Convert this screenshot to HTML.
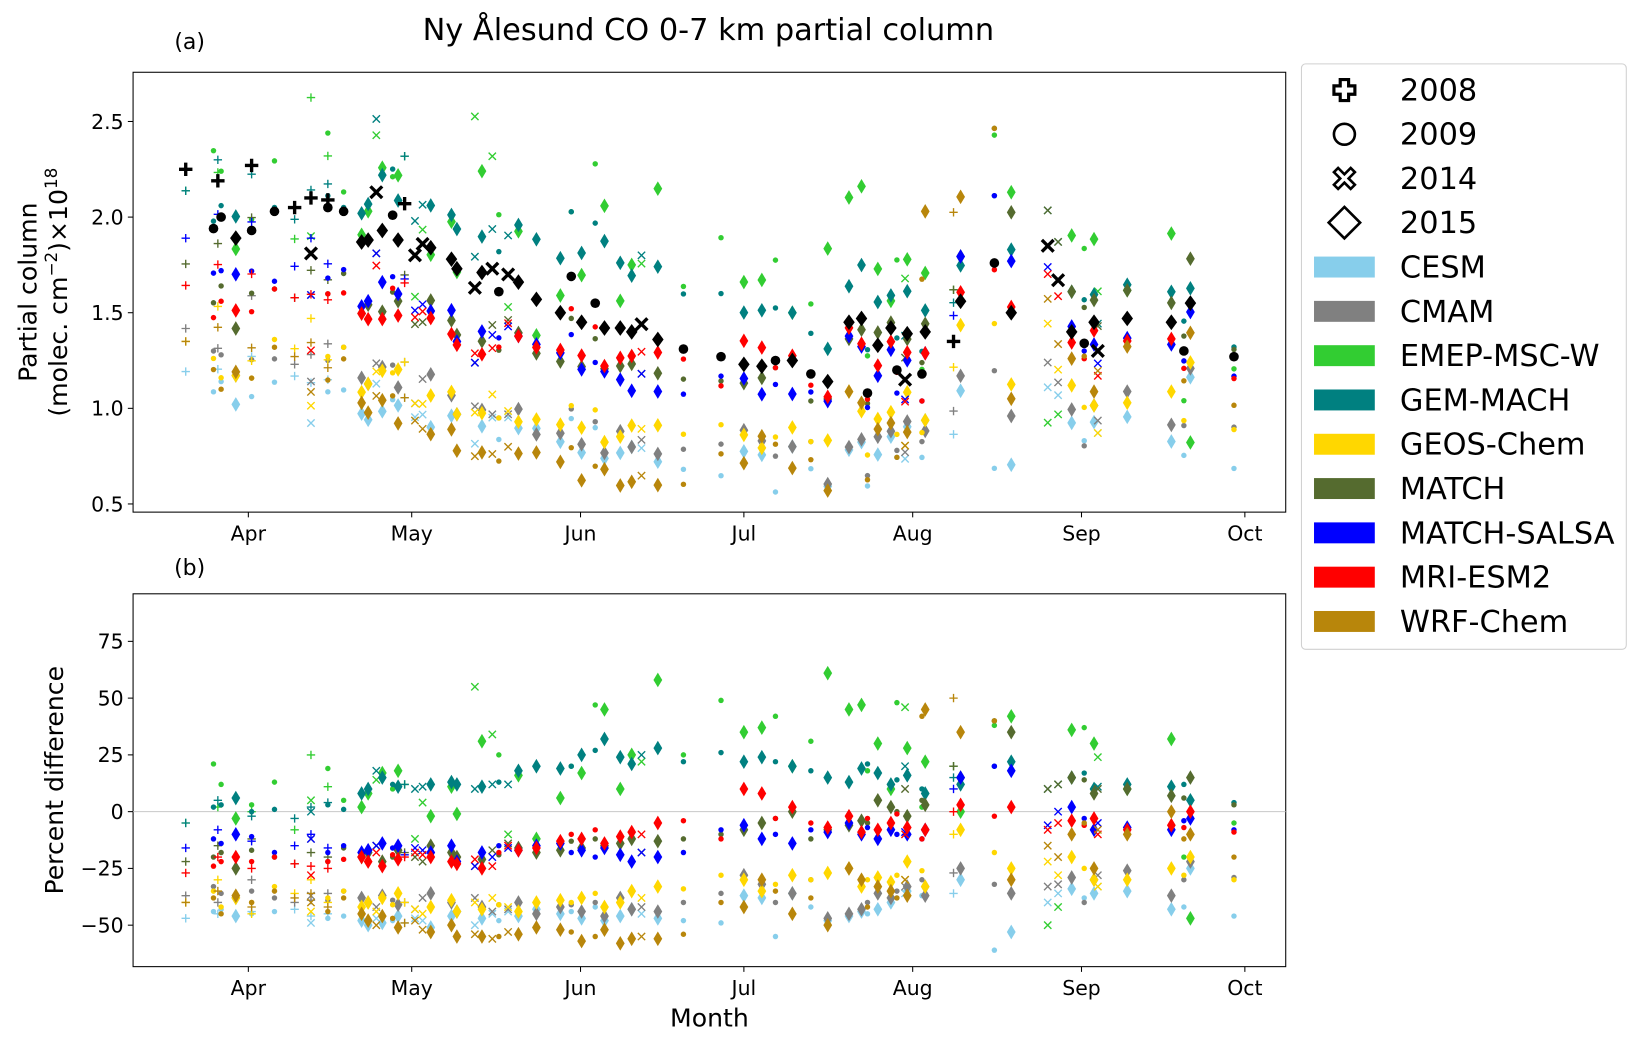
<!DOCTYPE html>
<html><head><meta charset="utf-8">
<style>html,body{margin:0;padding:0;background:#fff}svg{display:block}text{font-family:"DejaVu Sans","Liberation Sans",sans-serif;fill:#000}</style>
</head><body>
<svg id="chart" width="1642" height="1041" viewBox="0 0 1567 994" preserveAspectRatio="none" xmlns="http://www.w3.org/2000/svg">
<text x="676" y="38" font-size="29" text-anchor="middle">Ny Ålesund CO 0-7 km partial column</text>
<text x="181" y="47" font-size="21" text-anchor="middle">(a)</text>
<text x="181" y="549" font-size="21" text-anchor="middle">(b)</text>
<rect x="127" y="69" width="1100" height="420" fill="none" stroke="#000" stroke-width="1"/>
<rect x="127" y="567" width="1100" height="356" fill="none" stroke="#000" stroke-width="1"/>
<line x1="127" x2="1227" y1="775" y2="775" stroke="#c8c8c8" stroke-width="1"/>
<g id="axes"></g>
<g id="marks"></g>
<text transform="translate(35,279) rotate(-90)" font-size="24" text-anchor="middle">Partial column</text>
<text transform="translate(64,279) rotate(-90)" font-size="24" text-anchor="middle">(molec. cm<tspan baseline-shift="super" font-size="16">−2</tspan>)×10<tspan baseline-shift="super" font-size="16">18</tspan></text>
<text transform="translate(60,745) rotate(-90)" font-size="24" text-anchor="middle">Percent difference</text>
<text x="677" y="980" font-size="24" text-anchor="middle">Month</text>
<g>
<rect x="1242" y="61" width="310" height="559" rx="4" fill="#fff" stroke="#d0d0d0" stroke-width="1"/>
<g id="legend-items"></g>
</g>
</svg>
<script>
const monthLabels = ["Apr","May","Jun","Jul","Aug","Sep","Oct"];
const monthDays = [91,121,152,182,213,244,274];
const colTicks = [0.5,1.0,1.5,2.0,2.5];
const pctTicks = [-50,-25,0,25,50,75];
const years = [2008,2009,2014,2015];
const models = ["CESM","CMAM","EMEP-MSC-W","GEM-MACH","GEOS-Chem","MATCH","MATCH-SALSA","MRI-ESM2","WRF-Chem"];
const modelColors = ["#87ceeb","#808080","#32cd32","#008080","#ffd700","#556b2f","#0000ff","#ff0000","#b8860b"];
const obsDay = [79.5,84.6,85.4,86,88.7,91.6,91.6,95.8,99.5,102.5,102.5,105.6,105.6,108.5,
 111.8,113,114.5,115.6,117.5,118.5,119.7,121.6,123,124.5,128.3,129.3,132.6,133.9,135.8,137,138.7,140.6,143.9,148.3,
 150.3,152.2,154.7,156.4,159.3,161.4,163.2,166.2,170.9,
 177.8,182,185.3,187.8,190.9,194.3,197.4,201.3,203.6,204.7,206.6,209,210.1,211.6,212,214.7,215.3,
 220.5,221.8,228,231.1,
 237.8,239.7,242.2,244.5,246.3,247,252.4,260.5,262.8,264,272];
const obsYear = [2008,2009,2008,2009,2015,2008,2009,2009,2008,2008,2014,2008,2009,2009,
 2015,2015,2014,2015,2009,2015,2008,2014,2014,2015,2015,2015,2014,2015,2014,2009,2014,2015,2015,2015,
 2009,2015,2009,2015,2015,2015,2014,2015,2009,
 2009,2015,2015,2009,2015,2009,2015,2015,2015,2009,2015,2015,2009,2014,2015,2009,2015,
 2008,2015,2009,2015,
 2014,2014,2015,2009,2015,2014,2015,2015,2009,2015,2009];
const obsValue = [2.25,1.94,2.19,2.00,1.89,2.27,1.93,2.03,2.05,2.10,1.81,2.09,2.05,2.03,
 1.87,1.88,2.13,1.93,2.01,1.88,2.07,1.80,1.86,1.84,1.78,1.73,1.63,1.71,1.73,1.61,1.70,1.66,1.57,1.50,
 1.69,1.45,1.55,1.42,1.42,1.40,1.44,1.36,1.31,
 1.27,1.23,1.22,1.25,1.25,1.18,1.14,1.45,1.47,1.08,1.33,1.42,1.20,1.15,1.39,1.18,1.40,
 1.35,1.56,1.76,1.50,
 1.85,1.67,1.40,1.34,1.45,1.30,1.47,1.45,1.30,1.55,1.27];
const pctCESM = [-47,-44,-45,-43,-46,-44,-45,-44,-43,-46,-49,-45,-47,-46,
 -48,-50,-47,-49,-48,-46,-49,-47,-48,-51,-46,-44,-50,-47,-45,-48,-44,-46,-43,-45,
 -44,-47,-42,-48,-46,-43,-45,-47,-48,
 -49,-37,-38,-55,-36,-42,-48,-46,-44,-45,-43,-40,-38,-36,-35,-37,-33,
 -36,-30,-61,-53,
 -40,-36,-34,-38,-36,-33,-35,-43,-42,-25,-46];
const pctCMAM = [-37,-33,-40,-36,-38,-30,-35,-38,-40,-39,-37,-36,-39,-35,
 -38,-40,-42,-37,-39,-41,-40,-43,-38,-36,-40,-44,-38,-42,-44,-41,-43,-40,-45,-42,
 -41,-44,-40,-46,-38,-43,-42,-44,-40,
 -36,-28,-32,-40,-36,-30,-47,-45,-43,-40,-36,-38,-35,-33,-33,-30,-37,
 -27,-25,-32,-36,
 -33,-32,-29,-40,-30,-28,-26,-37,-30,-22,-29];
const pctEMEP = [-5,21,2,12,-3,0,3,13,-8,25,5,11,19,5,
 2,8,14,17,10,18,12,-12,4,-2,11,-1,55,31,34,25,-10,16,-12,6,
 20,17,47,45,10,25,22,58,25,
 49,35,37,42,20,31,61,45,47,18,30,10,48,46,28,2,22,
 20,0,38,42,
 -50,-42,36,37,30,24,10,32,-20,-47,-5];
const pctGEM = [-5,2,5,3,6,-2,0,1,-3,2,0,4,3,1,
 8,10,18,15,12,11,12,10,11,12,13,12,10,11,12,13,12,18,20,19,
 20,25,27,32,24,21,25,28,22,
 26,22,24,22,20,18,15,13,19,21,17,12,14,20,16,10,8,
 15,12,20,22,
 10,12,15,17,10,11,12,11,12,5,4];
const pctGEOS = [-40,-35,-30,-42,-38,-45,-40,-33,-36,-30,-44,-40,-38,-35,
 -42,-40,-44,-38,-41,-36,-40,-43,-45,-42,-39,-44,-40,-43,-38,-41,-42,-44,-40,-39,
 -40,-38,-36,-42,-40,-35,-38,-33,-34,
 -28,-30,-35,-32,-28,-30,-27,-25,-33,-30,-29,-31,-28,-30,-22,-26,-33,
 -10,-8,-18,-25,
 -22,-28,-20,-25,-30,-33,-30,-25,-28,-20,-30];
const pctMATCH = [-22,-20,-15,-18,-25,-12,-17,-20,-23,-18,-12,-20,-22,-16,
 -20,-18,-15,-22,-20,-17,-18,-20,-22,-15,-18,-20,-24,-21,-17,-19,-14,-16,-18,-17,
 -13,-16,-12,-15,-14,-12,-18,-13,-12,
 -10,-8,-5,-3,0,-12,-8,-6,-4,-5,5,2,0,10,-2,5,3,
 20,15,40,35,
 10,12,15,14,8,10,10,7,6,15,3];
const pctSALSA = [-16,-12,-8,-14,-10,-13,-11,-18,-15,-10,-12,-16,-18,-15,
 -18,-17,-15,-14,-16,-15,-19,-16,-17,-18,-15,-22,-24,-18,-20,-15,-16,-17,-15,-14,
 -18,-17,-20,-16,-19,-22,-18,-20,-18,
 -8,-6,-12,-10,-14,-8,-9,-5,-10,-7,-12,-8,-10,-9,-10,-12,-8,
 10,15,20,18,
 -6,0,2,-3,-8,-5,-7,-8,-4,-3,-8];
const pctMRI = [-27,-24,-20,-22,-20,-25,-22,-20,-23,-24,-28,-25,-22,-21,
 -20,-22,-18,-24,-19,-21,-20,-18,-19,-20,-22,-23,-21,-25,-24,-18,-15,-17,-16,-13,
 -10,-12,-8,-14,-11,-9,-10,-5,-4,
 -12,10,8,-3,2,-5,-7,-2,-9,-3,-8,-5,-1,-10,-7,-12,-8,
 0,3,-2,2,
 -8,-5,-4,-6,-3,-10,-8,-6,-7,0,-9];
const pctWRF = [-40,-38,-35,-45,-37,-42,-40,-35,-38,-36,-40,-42,-44,-38,
 -45,-48,-50,-46,-47,-51,-49,-48,-52,-53,-50,-55,-54,-55,-56,-55,-53,-54,-51,-52,
 -53,-57,-55,-52,-58,-56,-55,-56,-54,
 -40,-42,-30,-35,-45,-38,-50,-25,-30,-42,-33,-35,-38,-30,-37,42,45,
 50,35,40,-30,
 -15,-20,-10,-5,-25,-8,-10,0,-12,-10,-20];
const modelPct = [pctCESM,pctCMAM,pctEMEP,pctGEM,pctGEOS,pctMATCH,pctSALSA,pctMRI,pctWRF];

const NS="http://www.w3.org/2000/svg";
function X(d){return 237+(d-91)*(951/183);}
function YT(v){return 116+(2.5-v)*182.6;}
function YB(p){return 775-p*(54.2/25);}
function mk(tag,attrs,parent){const e=document.createElementNS(NS,tag);for(const k in attrs)e.setAttribute(k,attrs[k]);parent.appendChild(e);return e;}
const axes=document.getElementById('axes');
const marks=document.getElementById('marks');
monthDays.forEach((d,i)=>{
  [[489,508],[923,942]].forEach(([yb,yt],j)=>{
    const t=mk('line',{x1:X(d),x2:X(d),y1:yb,y2:yb+5,stroke:'#000'},axes);
    
    
    const l=mk('text',{x:X(d),y:yt+8,'font-size':19.5,'text-anchor':'middle'},axes);
    l.textContent=monthLabels[i];
    
    
  });
});
colTicks.forEach(v=>{
  const t=mk('line',{x1:122,x2:127,y1:YT(v),y2:YT(v),stroke:'#000'},axes);
  
  
  const l=mk('text',{x:118,y:YT(v)+7,'font-size':19.5,'text-anchor':'end'},axes);
  l.textContent=v.toFixed(1);
  
  
});
pctTicks.forEach(v=>{
  const t=mk('line',{x1:122,x2:127,y1:YB(v),y2:YB(v),stroke:'#000'},axes);
  
  
  const l=mk('text',{x:118,y:YB(v)+7,'font-size':19.5,'text-anchor':'end'},axes);
  l.textContent=(v<0?'−':'')+Math.abs(v);
  
  
});
function marker(year,x,y,color,big,parent){
  const s=big?1.6:1;
  let e;
  if(year===2008){
    const a=4*s;
    e=mk('path',{d:`M${x-a},${y}H${x+a}M${x},${y-a}V${y+a}`,stroke:color,'stroke-width':big?3.2:1.3,fill:'none'},parent);
  }else if(year===2009){
    e=mk('circle',{cx:x,cy:y,r:big?4.6:2.6,fill:color},parent);
  }else if(year===2014){
    const a=3.5*s;
    e=mk('path',{d:`M${x-a},${y-a}L${x+a},${y+a}M${x-a},${y+a}L${x+a},${y-a}`,stroke:color,'stroke-width':big?3.2:1.3,fill:'none'},parent);
  }else{
    const w=big?5.5:4.2,h=big?7.5:7;
    e=mk('path',{d:`M${x},${y-h}L${x+w},${y}L${x},${y+h}L${x-w},${y}Z`,fill:color},parent);
  }
  return e;
}
modelPct.forEach((arr,m)=>{
  obsDay.forEach((d,i)=>{
    const p=arr[i]; if(p===undefined||p===null) return;
    const x=X(d);
    const v=obsValue[i]*(1+p/100);
    const e1=marker(obsYear[i],x,YT(v),modelColors[m],false,marks);
    
    
    const e2=marker(obsYear[i],x,YB(p),modelColors[m],false,marks);
    
    
  });
});
obsDay.forEach((d,i)=>{
  const e=marker(obsYear[i],X(d),YT(obsValue[i]),'#000',true,marks);
  
  
});
const lg=document.getElementById('legend-items');
years.forEach((yr,i)=>{
  const y=86+i*42.2;
  const g=mk('g',{},lg);
  
  
  if(yr===2008) mk('path',{d:`M1279,${y-10}h8v6h6v8h-6v6h-8v-6h-6v-8h6z`,fill:'none',stroke:'#000','stroke-width':3},g);
  else if(yr===2009) mk('circle',{cx:1283,cy:y,r:10,fill:'none',stroke:'#000','stroke-width':2.5},g);
  else if(yr===2014) mk('path',{d:`M1273,${y-6}l4,-4l6,6l6,-6l4,4l-6,6l6,6l-4,4l-6,-6l-6,6l-4,-4l6,-6z`,fill:'none',stroke:'#000','stroke-width':2.5},g);
  else mk('path',{d:`M1283,${y-15}L1298,${y}L1283,${y+15}L1268,${y}Z`,fill:'none',stroke:'#000','stroke-width':2.5},g);
  const t=mk('text',{x:1336,y:y+10,'font-size':29},g);
  t.textContent=yr;
});
models.forEach((name,i)=>{
  const y=255+i*42.3;
  const g=mk('g',{},lg);
  
  
  mk('rect',{x:1254,y:y-10,width:58,height:20,fill:modelColors[i]},g);
  const t=mk('text',{x:1336,y:y+10,'font-size':29},g);
  t.textContent=name;
});
</script>
</body></html>
